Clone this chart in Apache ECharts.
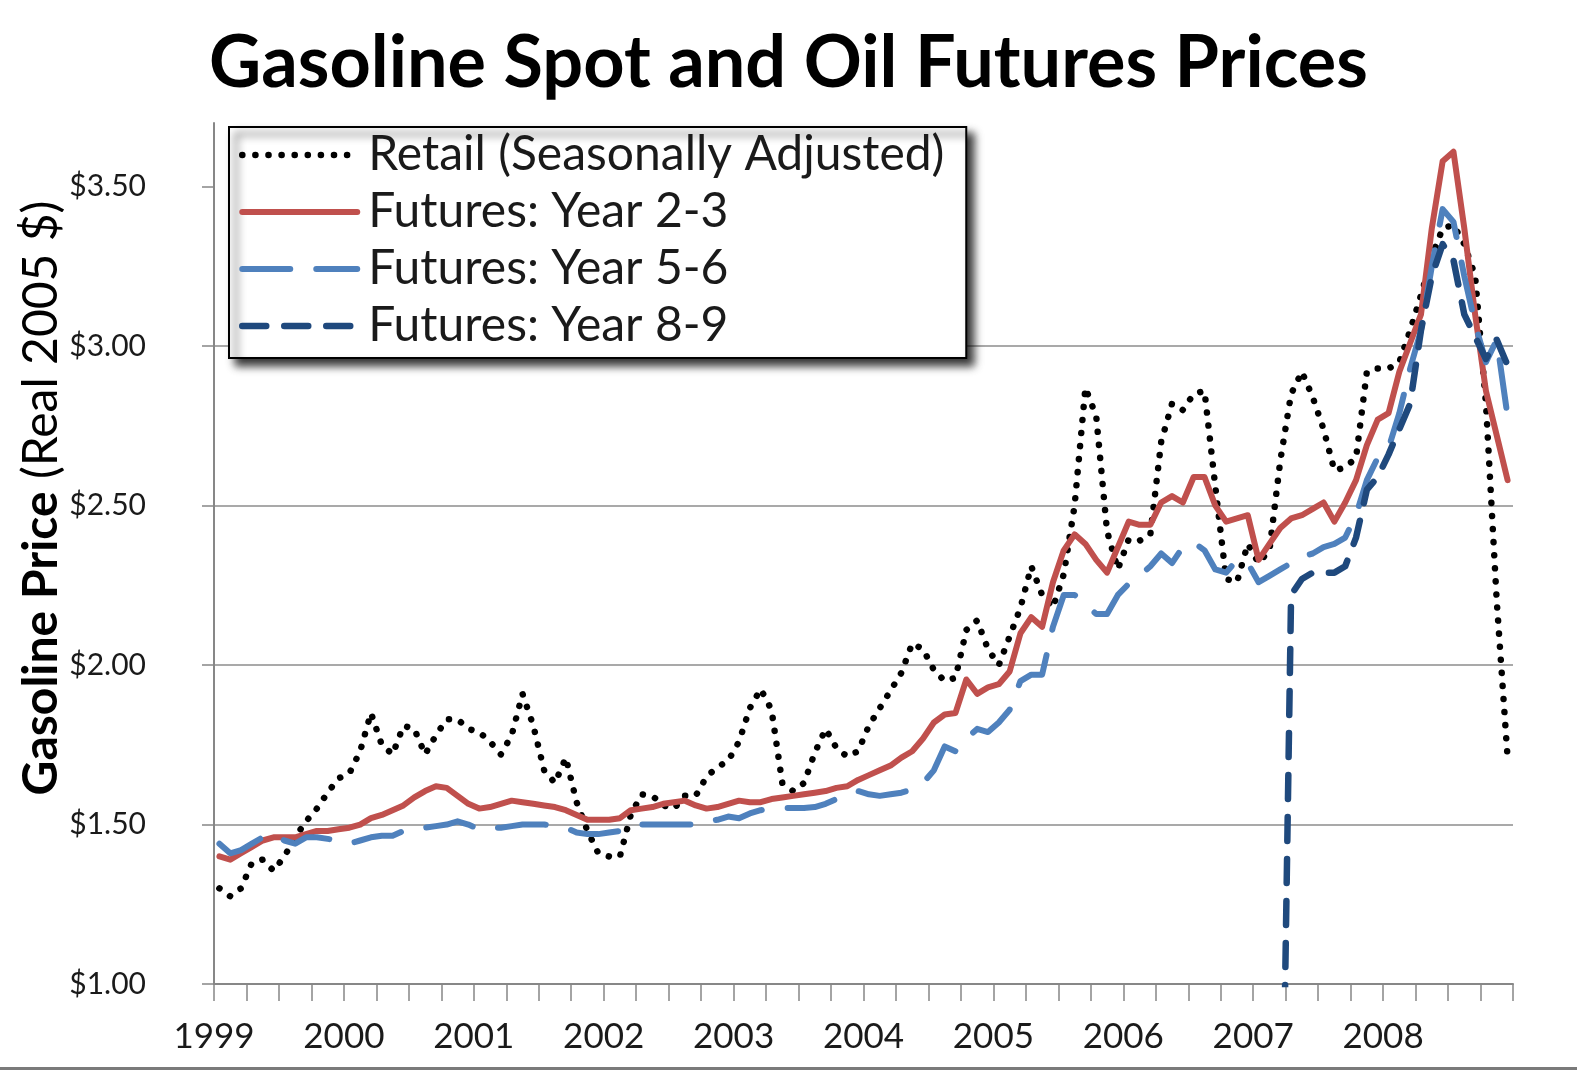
<!DOCTYPE html>
<html>
<head>
<meta charset="utf-8">
<script src="https://cdn.jsdelivr.net/npm/echarts@6/dist/echarts.min.js"></script>
<style>
  html, body { margin: 0; padding: 0; background: #ffffff; }
  #chart { width: 1577px; height: 1072px; }
</style>
</head>
<body>
<div id="chart"></div>
<script>
// Year labels on the time axis (one per January, months counted from Jan 1999)
const years = ['1999', '2000', '2001', '2002', '2003', '2004', '2005', '2006', '2007', '2008'];

// Price ticks on the value axis
const priceTicks = [1.0, 1.5, 2.0, 2.5, 3.0, 3.5];

// Monthly retail gasoline price, seasonally adjusted (real 2005 $), Jan 1999 - Dec 2008
const retail = [
  1.30, 1.275, 1.30, 1.38, 1.39, 1.355, 1.40, 1.46, 1.51, 1.55, 1.60, 1.645,
  1.66, 1.73, 1.85, 1.75, 1.72, 1.81, 1.80, 1.72, 1.78, 1.83, 1.83, 1.80,
  1.79, 1.76, 1.72, 1.78, 1.91, 1.81, 1.67, 1.63, 1.71, 1.57, 1.48, 1.41,
  1.40, 1.40, 1.53, 1.595, 1.59, 1.56, 1.55, 1.59, 1.59, 1.65, 1.68, 1.70,
  1.76, 1.865, 1.925, 1.86, 1.63, 1.605, 1.63, 1.725, 1.80, 1.74, 1.713, 1.73,
  1.81, 1.865, 1.92, 1.976, 2.068, 2.05, 1.985, 1.95, 1.96, 2.11, 2.14, 2.05,
  2.00, 2.09, 2.18, 2.31, 2.22, 2.18, 2.285, 2.50, 2.87, 2.78, 2.42, 2.30,
  2.395, 2.39, 2.41, 2.70, 2.82, 2.80, 2.85, 2.86, 2.56, 2.27, 2.26, 2.38,
  2.32, 2.36, 2.64, 2.85, 2.92, 2.84, 2.74, 2.61, 2.62, 2.65, 2.92, 2.93,
  2.93, 2.95, 3.05, 3.16, 3.28, 3.37, 3.38, 3.32, 3.22, 2.82, 2.20, 1.71
];

// Futures-implied gasoline price, contracts 2-3 years out
const futures23 = [
  1.40, 1.39, 1.41, 1.43, 1.45, 1.46, 1.46, 1.46, 1.47, 1.48, 1.48, 1.485,
  1.49, 1.50, 1.52, 1.53, 1.545, 1.56, 1.585, 1.605, 1.62, 1.615, 1.59, 1.565,
  1.55, 1.555, 1.565, 1.575, 1.57, 1.565, 1.56, 1.555, 1.545, 1.53, 1.515, 1.515,
  1.515, 1.52, 1.545, 1.55, 1.555, 1.565, 1.57, 1.575, 1.56, 1.55, 1.555, 1.565,
  1.575, 1.57, 1.57, 1.58, 1.585, 1.59, 1.595, 1.60, 1.605, 1.615, 1.62, 1.64,
  1.655, 1.67, 1.685, 1.71, 1.73, 1.77, 1.82, 1.845, 1.85, 1.955, 1.91, 1.93,
  1.94, 1.98, 2.10, 2.15, 2.12, 2.26, 2.36, 2.41, 2.38, 2.33, 2.29, 2.37,
  2.45, 2.44, 2.44, 2.51, 2.53, 2.51, 2.59, 2.59, 2.50, 2.45, 2.46, 2.47,
  2.33, 2.38, 2.43, 2.46, 2.47, 2.49, 2.51, 2.45, 2.51, 2.58, 2.69, 2.77,
  2.79, 2.92, 3.01, 3.10, 3.37, 3.58, 3.61, 3.37, 3.10, 2.86, 2.72, 2.58
];

// Futures-implied gasoline price, contracts 5-6 years out
const futures56 = [
  1.44, 1.41, 1.42, 1.44, 1.46, 1.47, 1.45, 1.44, 1.46, 1.46, 1.455, 1.45,
  1.44, 1.45, 1.46, 1.465, 1.465, 1.48, 1.49, 1.49, 1.495, 1.50, 1.51, 1.50,
  1.485, 1.49, 1.49, 1.495, 1.50, 1.50, 1.50, 1.495, 1.49, 1.475, 1.47, 1.47,
  1.475, 1.48, 1.50, 1.50, 1.50, 1.50, 1.50, 1.50, 1.50, 1.51, 1.515, 1.525,
  1.52, 1.535, 1.545, 1.55, 1.552, 1.552, 1.552, 1.555, 1.565, 1.58, 1.595, 1.605,
  1.595, 1.59, 1.595, 1.60, 1.61, 1.63, 1.67, 1.745, 1.73, 1.77, 1.80, 1.79,
  1.82, 1.86, 1.95, 1.97, 1.97, 2.12, 2.22, 2.22, 2.19, 2.16, 2.16, 2.22,
  2.255, 2.28, 2.31, 2.35, 2.32, 2.37, 2.385, 2.36, 2.30, 2.29, 2.33, 2.32,
  2.26, 2.28, 2.30, 2.32, 2.34, 2.35, 2.37, 2.38, 2.40, 2.47, 2.58, 2.65,
  2.68, 2.79, 2.93, 3.05, 3.25, 3.43, 3.39, 3.22, 3.07, 2.95, 3.02, 2.78
];

// Futures-implied gasoline price, contracts 8-9 years out (series begins Mar 2007)
const futures89StartMonth = 98;
const futures89 = [
  0.00, 2.22, 2.27, 2.29, 2.29, 2.29, 2.31, 2.40, 2.55, 2.59,
  2.66, 2.74, 2.82, 3.05, 3.22, 3.32, 3.27, 3.10, 3.03, 2.96, 3.02, 2.94
];

// Each monthly value sits in the middle of its month on the time axis
function monthly(values, startMonth) {
  const s = startMonth || 0;
  return values.map((v, i) => [s + i + 0.5, v]);
}

const FONT = 'Lato';
const AXIS_GREY = '#878787';
const TEXT = '#1a1a1a';

const chart = echarts.init(document.getElementById('chart'), null, { renderer: 'canvas' });

chart.setOption({
  animation: false,
  backgroundColor: '#ffffff',
  title: {
    text: 'Gasoline Spot and Oil Futures Prices',
    left: 'center',
    top: 22,
    padding: 0,
    textStyle: { fontFamily: FONT, fontWeight: 'bold', fontSize: 72, lineHeight: 84, color: '#000' }
  },
  grid: { left: 214, top: 123, right: 64, bottom: 88, containLabel: false },
  legend: {
    orient: 'vertical',
    left: 229,
    top: 127,
    padding: [0, 15, 4, 10],
    itemWidth: 115,
    itemHeight: 20,
    itemGap: 1,
    selectedMode: false,
    backgroundColor: '#ffffff',
    borderColor: '#000000',
    borderWidth: 2,
    borderRadius: 0,
    shadowColor: 'rgba(0,0,0,0.8)',
    shadowBlur: 8,
    shadowOffsetX: 7,
    shadowOffsetY: 7,
    itemStyle: { opacity: 0 },
    lineStyle: { width: 'inherit', type: 'inherit', cap: 'inherit' },
    textStyle: { fontFamily: FONT, fontSize: 48, lineHeight: 56, color: TEXT, width: 583, padding: [0, 0, 0, 6] },
    data: ['Retail (Seasonally Adjusted)', 'Futures: Year 2-3', 'Futures: Year 5-6', 'Futures: Year 8-9']
  },
  xAxis: {
    type: 'value',
    min: 0,
    max: 120,
    interval: 3,
    axisLine: { show: true, lineStyle: { color: AXIS_GREY, width: 2 } },
    axisTick: { show: true, length: 17, lineStyle: { color: AXIS_GREY, width: 1.5 } },
    axisLabel: {
      margin: 35,
      fontFamily: FONT,
      fontSize: 35,
      color: TEXT,
      formatter: function (v) {
        const m = Math.round(v);
        return (m % 12 === 0 && m / 12 < years.length) ? years[m / 12] : '';
      }
    },
    splitLine: { show: false }
  },
  yAxis: {
    type: 'value',
    min: 1,
    max: 3.7,
    interval: 0.5,
    axisLine: { show: true, lineStyle: { color: AXIS_GREY, width: 2 } },
    axisTick: { show: true, length: 12, lineStyle: { color: AXIS_GREY, width: 1.5 }, customValues: priceTicks },
    axisLabel: {
      customValues: priceTicks,
      margin: 68,
      fontFamily: FONT,
      fontSize: 30,
      color: TEXT,
      formatter: function (v) {
        return priceTicks.some(t => Math.abs(t - v) < 1e-6) ? '$' + v.toFixed(2) : '';
      }
    },
    splitLine: { show: true, showMinLine: false, showMaxLine: false, lineStyle: { color: '#8c8c8c', width: 1.5 } }
  },
  graphic: [
    {
      type: 'text',
      x: 42,
      y: 498,
      rotation: Math.PI / 2,
      style: {
        text: '{b|Gasoline Price} (Real 2005 $)',
        fontFamily: FONT,
        fontSize: 48,
        fill: '#000',
        align: 'center',
        verticalAlign: 'middle',
        rich: { b: { fontFamily: FONT, fontSize: 48, fontWeight: 'bold', fill: '#000' } }
      }
    },
    {
      type: 'rect',
      shape: { x: 0, y: 1067, width: 1577, height: 3 },
      style: { fill: '#7a7a7a' }
    }
  ],
  series: [
    {
      name: 'Retail (Seasonally Adjusted)',
      type: 'line',
      data: monthly(retail),
      symbol: 'none',
      itemStyle: { color: '#000000' },
      lineStyle: { color: '#000000', width: 6.5, type: [0.1, 13], cap: 'round', join: 'round' },
      z: 2
    },
    {
      name: 'Futures: Year 2-3',
      type: 'line',
      data: monthly(futures23),
      symbol: 'none',
      itemStyle: { color: '#C0504D' },
      lineStyle: { color: '#C0504D', width: 6, cap: 'round', join: 'round' },
      z: 3
    },
    {
      name: 'Futures: Year 5-6',
      type: 'line',
      data: monthly(futures56),
      symbol: 'none',
      itemStyle: { color: '#4F81BD' },
      lineStyle: { color: '#4F81BD', width: 6, type: [48, 26], cap: 'round', join: 'round' },
      z: 4
    },
    {
      name: 'Futures: Year 8-9',
      type: 'line',
      data: monthly(futures89, futures89StartMonth),
      symbol: 'none',
      itemStyle: { color: '#1F497D' },
      lineStyle: { color: '#1F497D', width: 6.5, type: [24, 18], cap: 'round', join: 'round' },
      z: 5
    }
  ]
});
</script>
</body>
</html>
